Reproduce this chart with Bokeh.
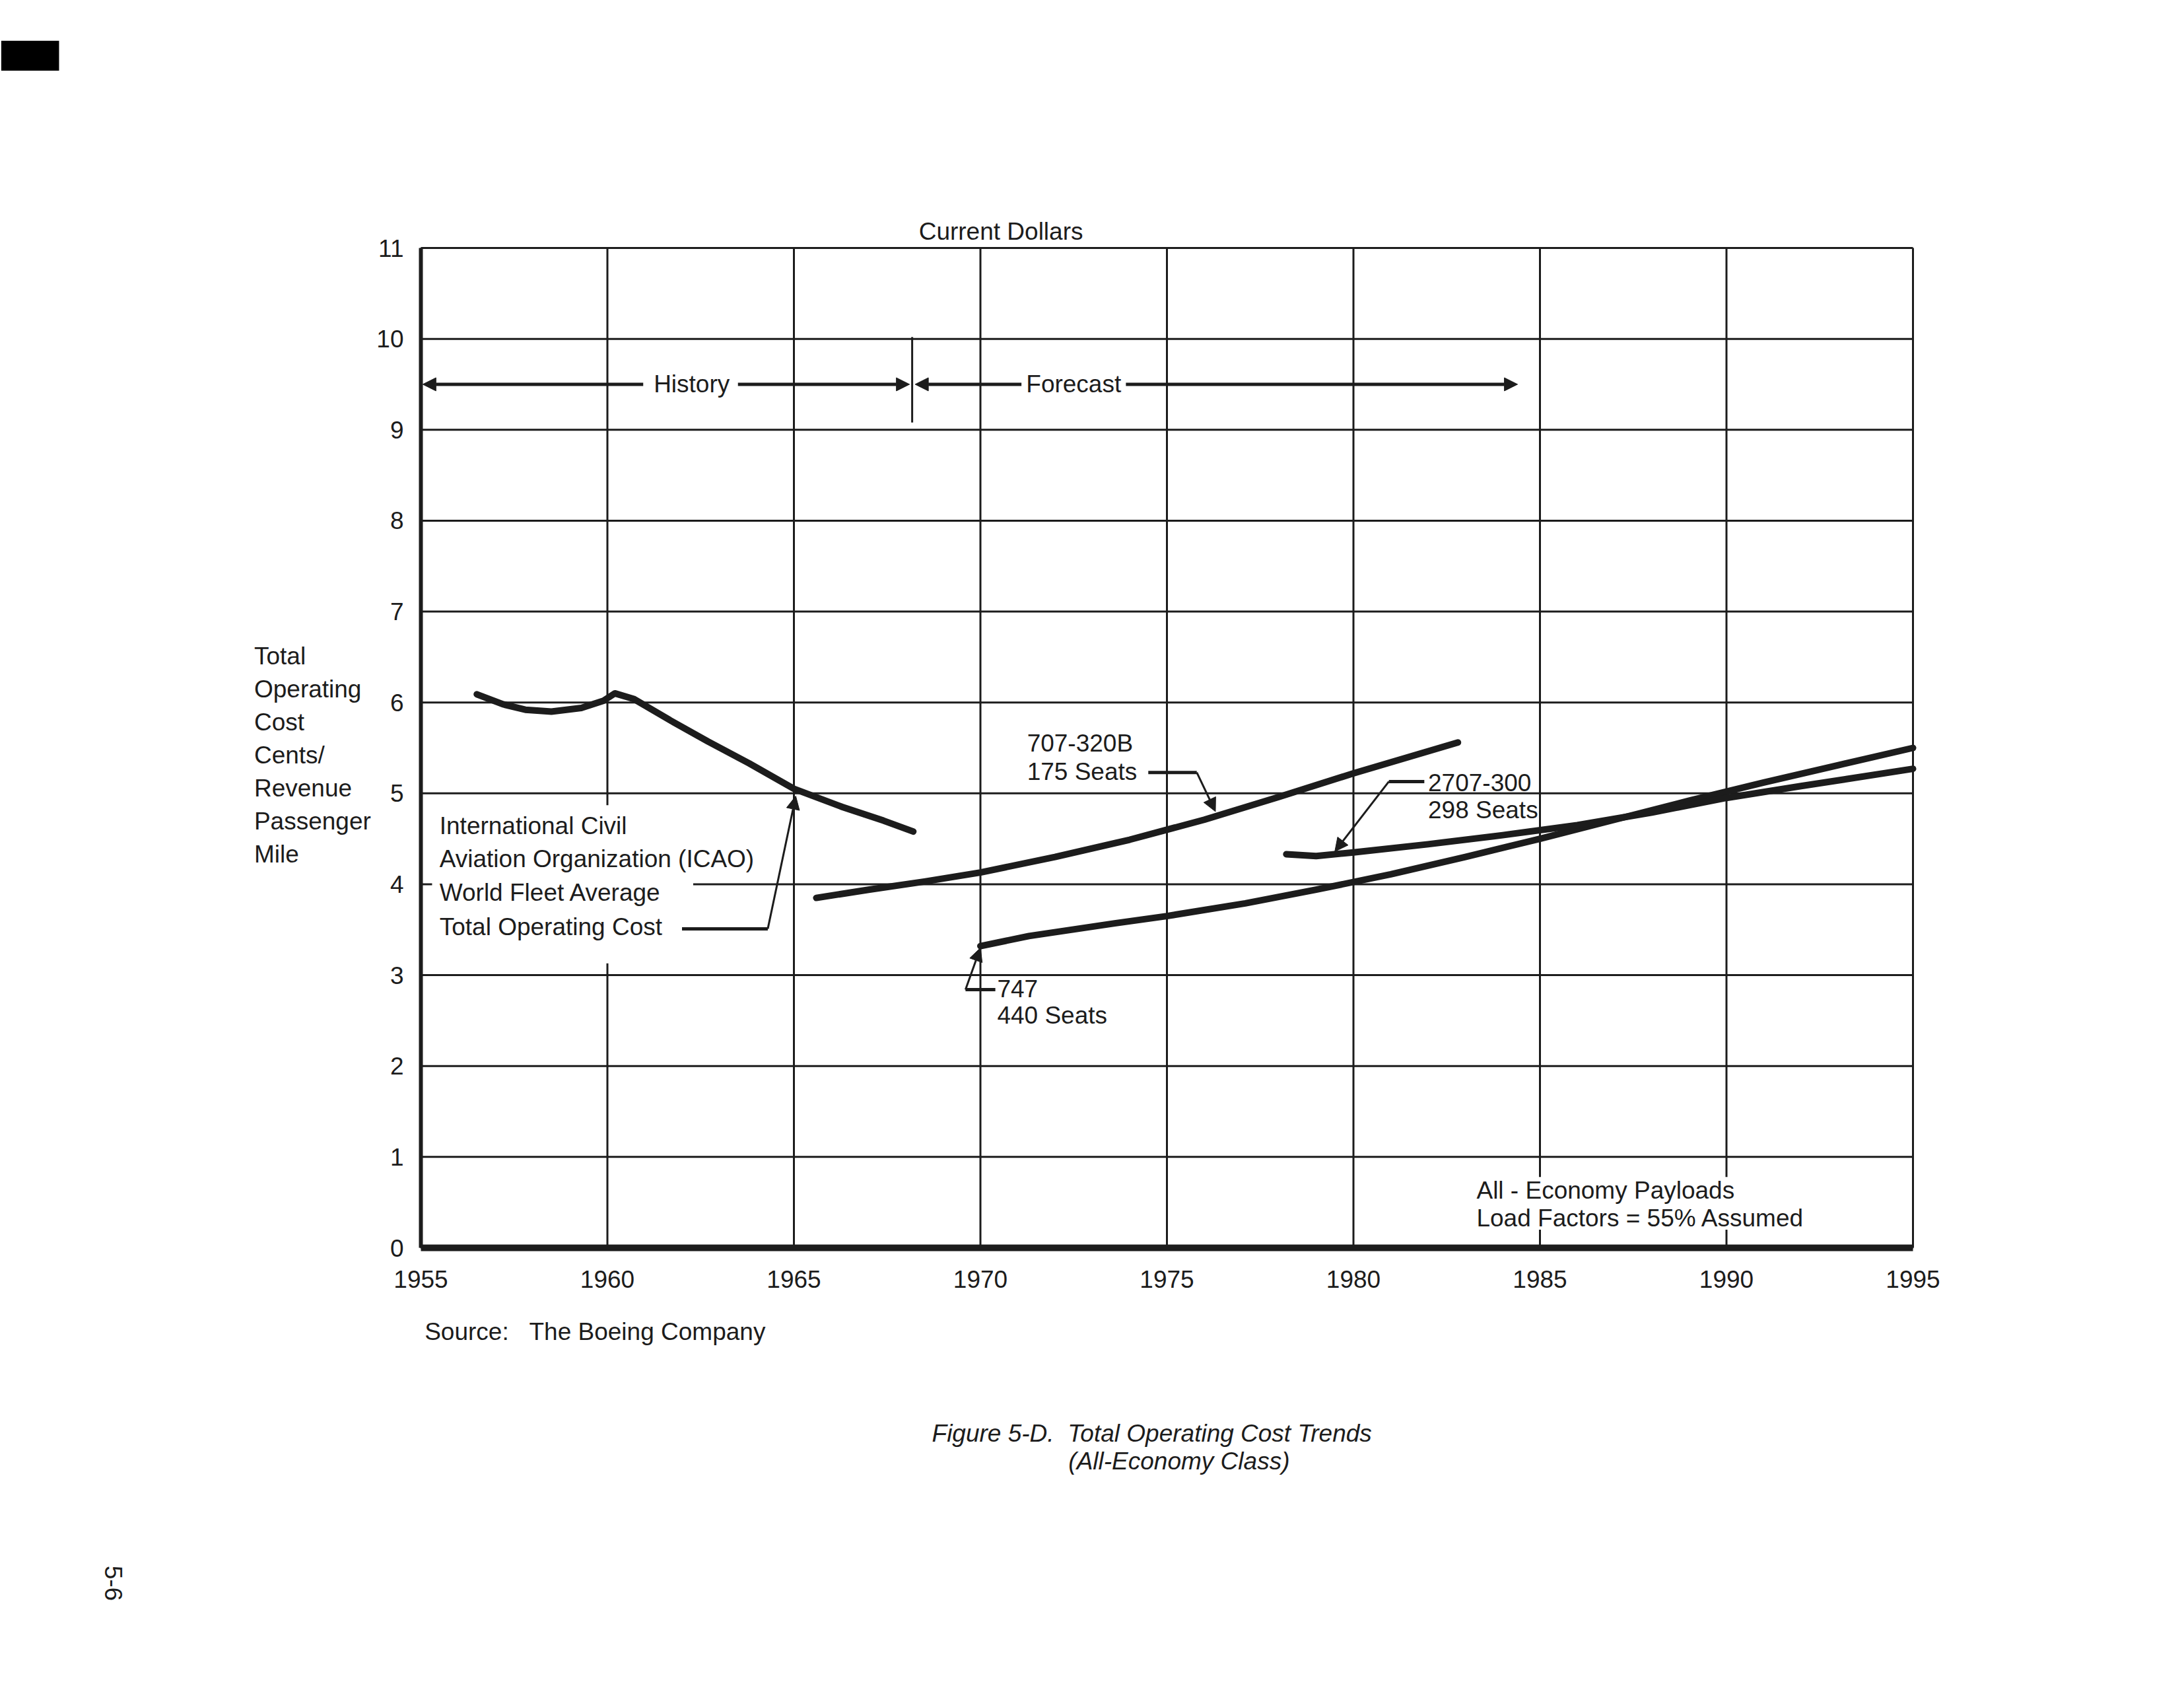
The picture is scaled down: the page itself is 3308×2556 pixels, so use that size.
import math
from bokeh.plotting import figure
from bokeh.models import Range1d, FixedTicker, Label, Arrow, NormalHead, BoxAnnotation
from bokeh.embed import file_html
from bokeh.resources import INLINE

# ---------------- data ----------------
year_ticks = [1955, 1960, 1965, 1970, 1975, 1980, 1985, 1990, 1995]
cost_ticks = [0, 1, 2, 3, 4, 5, 6, 7, 8, 9, 10, 11]

icao_year = [1956.5, 1957.2, 1957.8, 1958.5, 1959.3, 1959.9, 1960.2, 1960.7, 1961.7, 1962.7, 1963.8, 1965.0, 1966.3, 1967.4, 1968.2]
icao_cost = [6.09, 5.98, 5.92, 5.90, 5.94, 6.02, 6.10, 6.04, 5.80, 5.57, 5.33, 5.05, 4.85, 4.70, 4.58]

b707_year = [1965.6, 1967.0, 1968.5, 1970.0, 1972.0, 1974.0, 1976.0, 1978.0, 1980.0, 1982.8]
b707_cost = [3.85, 3.94, 4.03, 4.13, 4.30, 4.49, 4.71, 4.96, 5.22, 5.56]

b747_year = [1970.0, 1971.3, 1973.6, 1975.0, 1977.1, 1979.0, 1981.0, 1983.0, 1985.0, 1987.0, 1989.0, 1991.0, 1993.0, 1995.0]
b747_cost = [3.32, 3.43, 3.57, 3.65, 3.79, 3.94, 4.11, 4.30, 4.50, 4.71, 4.92, 5.12, 5.31, 5.50]

b2707_year = [1978.2, 1979.0, 1980.0, 1982.0, 1984.0, 1986.0, 1988.0, 1990.0, 1992.0, 1995.0]
b2707_cost = [4.33, 4.31, 4.35, 4.44, 4.54, 4.65, 4.79, 4.95, 5.08, 5.27]

# ---------------- layout (pixels) ----------------
W, H = 3292, 2540
FL, FR, FT, FB = 637, 2897, 375, 1889          # chart box inside the canvas
X0, X1, Y0, Y1 = 1955, 1995, 0, 11
px_x = (FR - FL) / (X1 - X0)
px_y = (FB - FT) / (Y1 - Y0)

INK = "#1c1c1c"
FONT = "Liberation Sans"
FS = "37px"
NB = "\u00a0"

p = figure(width=W, height=H,
           x_range=Range1d(X0 - FL / px_x, X1 + (W - FR) / px_x),
           y_range=Range1d(Y0 - (H - FB) / px_y, Y1 + FT / px_y),
           output_backend="svg", toolbar_location=None,
           min_border=0, background_fill_color="white", border_fill_color="white")
p.xgrid.visible = False
p.ygrid.visible = False
p.outline_line_color = None

# axes drawn at the chart box edges
p.xaxis.fixed_location = 0
p.yaxis.fixed_location = 1955
p.xaxis.bounds = (X0, X1)
p.yaxis.bounds = (Y0, Y1)
p.xaxis.ticker = FixedTicker(ticks=year_ticks)
p.yaxis.ticker = FixedTicker(ticks=cost_ticks)
for ax in (p.xaxis, p.yaxis):
    ax.major_tick_line_color = None
    ax.minor_tick_line_color = None
    ax.axis_line_color = INK
    ax.major_label_text_font = FONT
    ax.major_label_text_font_size = FS
    ax.major_label_text_color = INK
p.xaxis.axis_line_width = 10
p.yaxis.axis_line_width = 6
p.xaxis.major_label_standoff = 28
p.yaxis.major_label_standoff = 20

# grid lines at the tick values
p.segment(x0=year_ticks, y0=[Y0] * len(year_ticks), x1=year_ticks, y1=[Y1] * len(year_ticks),
          line_color=INK, line_width=3)
p.segment(x0=[X0] * len(cost_ticks), y0=cost_ticks, x1=[X1] * len(cost_ticks), y1=cost_ticks,
          line_color=INK, line_width=3)

# white areas behind the in-plot text blocks (grid is broken there)
p.quad(left=[1955.3, 1983.1], right=[1962.3, 1992.2], bottom=[3.13, 0.20], top=[4.87, 0.78],
       fill_color="white", line_color=None)

# curves
for xs, ys in ((icao_year, icao_cost), (b707_year, b707_cost),
               (b747_year, b747_cost), (b2707_year, b2707_cost)):
    p.line(xs, ys, line_width=10, line_color=INK, line_cap="round", line_join="round")


def lab(x, y, text, size=FS, align="left", baseline="middle", style="normal", angle=0.0):
    p.add_layout(Label(x=x, y=y, text=text, text_font=FONT, text_font_size=size,
                       text_align=align, text_baseline=baseline, text_font_style=style,
                       text_color=INK, angle=angle))


def arrow(x0, y0, x1, y1, w=3, size=20):
    p.add_layout(Arrow(end=NormalHead(size=size, fill_color=INK, line_color=INK, line_width=1),
                       x_start=x0, y_start=y0, x_end=x1, y_end=y1,
                       line_color=INK, line_width=w))


def seg(x0, y0, x1, y1, w=5):
    p.segment(x0=[x0], y0=[y0], x1=[x1], y1=[y1], line_color=INK, line_width=w)


# History / Forecast
lab(1970.55, 11.18, "Current Dollars", align="center")
arrow(1960.96, 9.5, 1955.05, 9.5, w=5)
lab(1962.26, 9.5, "History", align="center")
arrow(1963.5, 9.5, 1968.1, 9.5, w=5)
seg(1968.17, 9.08, 1968.17, 10.02, w=3)
arrow(1971.1, 9.5, 1968.25, 9.5, w=5)
lab(1972.5, 9.5, "Forecast", align="center")
arrow(1973.9, 9.5, 1984.4, 9.5, w=5)

# ICAO annotation
for yy, t in ((4.64, "International Civil"), (4.28, "Aviation Organization (ICAO)"),
              (3.91, "World Fleet Average"), (3.53, "Total Operating Cost")):
    lab(1955.5, yy, t)
seg(1962.0, 3.51, 1964.3, 3.51, w=5)
arrow(1964.3, 3.51, 1965.05, 4.97, w=3)

# 707-320B
lab(1971.25, 5.55, "707-320B")
lab(1971.25, 5.24, "175 Seats")
seg(1974.5, 5.23, 1975.8, 5.23, w=5)
arrow(1975.8, 5.23, 1976.3, 4.80, w=3)

# 2707-300
lab(1982.0, 5.12, "2707-300")
lab(1982.0, 4.82, "298 Seats")
seg(1981.9, 5.13, 1980.95, 5.13, w=5)
arrow(1980.95, 5.13, 1979.5, 4.36, w=3)

# 747
lab(1970.45, 2.85, "747")
lab(1970.45, 2.56, "440 Seats")
seg(1970.4, 2.84, 1969.6, 2.84, w=5)
arrow(1969.6, 2.84, 1970.0, 3.30, w=3)

# payload note
lab(1983.3, 0.63, "All - Economy Payloads")
lab(1983.3, 0.33, "Load Factors = 55% Assumed")

# y-axis title (horizontal, multi-line)
for i, t in enumerate(["Total", "Operating", "Cost", "Cents/", "Revenue", "Passenger", "Mile"]):
    lab(1950.53, 6.51 - 0.363 * i, t)

# source and caption
lab(1955.1, -0.92, "Source:" + NB * 3 + "The Boeing Company")
lab(1968.7, -2.04, "Figure 5-D." + NB * 2 + "Total Operating Cost Trends", style="italic")
lab(1972.36, -2.35, "(All-Economy Class)", style="italic")
lab(1946.76, -3.69, "5-6", align="center", angle=-math.pi / 2)

# scan registration mark
p.add_layout(BoxAnnotation(left=1943.75, right=1945.3, bottom=12.95, top=13.28,
                           fill_color="black", fill_alpha=1.0, line_color=None))

open("out.html", "w").write(file_html(p, INLINE))
